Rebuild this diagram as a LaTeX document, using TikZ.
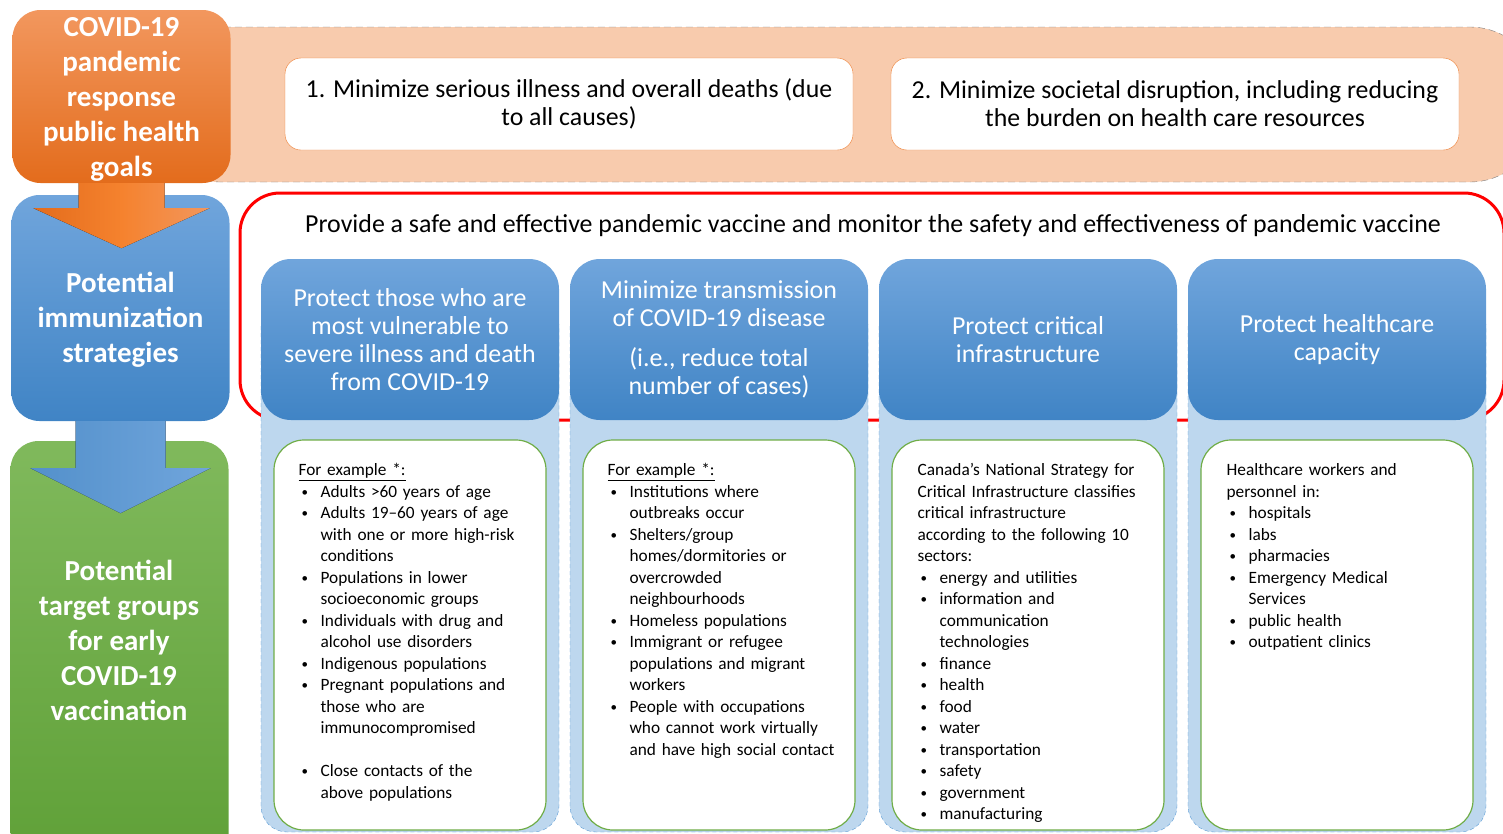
\documentclass[tikz,border=0pt]{standalone}
\usepackage{fontspec}
\setmainfont{Carlito}
\usetikzlibrary{calc}
\definecolor{orTop}{HTML}{F2975E}
\definecolor{orBot}{HTML}{E36C1C}
\definecolor{orArrow}{HTML}{F5822E}
\definecolor{blueTop}{HTML}{70A5DC}
\definecolor{blueBot}{HTML}{4084C5}
\definecolor{grnTop}{HTML}{80B95C}
\definecolor{grnBot}{HTML}{5C9E34}
\definecolor{bandfill}{HTML}{F8CBAD}
\definecolor{bandgray}{HTML}{7F7F7F}
\definecolor{goalorange}{HTML}{ED7D31}
\definecolor{colfill}{HTML}{BDD7EE}
\definecolor{colline}{HTML}{5B9BD5}
\definecolor{listgreen}{HTML}{70AD47}
\newcommand{\bul}[1]{\par\hangindent=22pt\hangafter=1\noindent
    \makebox[22pt][l]{\hspace{3pt}\raisebox{1pt}{\fontsize{13}{13}\selectfont\textbullet}}\begingroup\let\\\newline#1\endgroup}
\begin{document}
\begin{tikzpicture}[x=1pt, y=-1pt,
    lbox/.style={rounded corners=28, minimum width=218},
    ltext/.style={text=white, align=center, inner sep=0, font=\fontsize{29}{35}\selectfont\bfseries},
    goal/.style={draw=goalorange, fill=white, rounded corners=16, align=center,
        font=\fontsize{25.8}{28}\selectfont, minimum width=568, minimum height=92},
    colbg/.style={draw=colline, dash pattern=on 4pt off 3pt, fill=colfill,
        rounded corners=26, minimum width=298, minimum height=532},
    head/.style={rounded corners=30, top color=blueTop, bottom color=blueBot, text=white,
        align=center, font=\fontsize{25.9}{28}\selectfont, minimum width=298, minimum height=161},
    listbox/.style={draw=listgreen, line width=1.2, fill=white, rounded corners=30,
        minimum width=272, minimum height=390},
    listtext/.style={anchor=north west, inner sep=0, text width=252, align=left,
        font=\fontsize{17.3}{21.5}\selectfont}]
    \useasboundingbox (0,0) rectangle (1503,833);
    \clip (0,0) rectangle (1503,833);

    \draw[bandgray, dash pattern=on 7pt off 4pt, fill=bandfill, rounded corners=70]
        (150,27) rectangle (1540,182);
    \node[goal] (g1) at (569,104) {1. Minimize serious illness and overall deaths (due\\to all causes)};
    \node[goal] (g2) at (1175,104) {2. Minimize societal disruption, including reducing\\the burden on health care resources};

    \node[lbox, top color=grnTop, bottom color=grnBot, minimum height=459] (tgt) at (119.5,670.5) {};
    \node[ltext] (tgtlbl) at (119,640.5) {Potential\\target groups\\for early\\COVID-19\\vaccination};
    \node[lbox, top color=blueTop, bottom color=blueBot, minimum height=226] (strat) at (120.5,308) {};
    \node[ltext] (stratlbl) at ($(strat.center)+(0,12)$) {Potential\\immunization\\strategies};
    \node[lbox, top color=orTop, bottom color=orBot, minimum height=173] (goals) at (121.5,96.5) {};
    \node[ltext] (goalslbl) at ($(goals.center)+(0,3)$) {COVID-19\\pandemic\\response\\public health\\goals};

    \fill[left color=orBot, right color=orTop, middle color=orArrow]
        ($(goals.south)+(-43,0)$) -- ++(0,25) -- ++(-45,0) -- ($(goals.south)+(0,65)$)
        -- ($(goals.south)+(88,25)$) -- ++(-45,0) -- ($(goals.south)+(43,0)$) -- cycle;
    \fill[left color=blueBot!90!white, right color=blueTop]
        ($(strat.south)+(-45,0)$) -- ++(0,47) -- ++(-45,0) -- ($(strat.south)+(0,92)$)
        -- ($(strat.south)+(90,47)$) -- ++(-45,0) -- ($(strat.south)+(45,0)$) -- cycle;

    \node[draw=red, line width=3, rounded corners=40, minimum width=1264, minimum height=227]
        (aim) at (872,306.5) {};
    \node[font=\fontsize{25.9}{28}\selectfont] (aimlbl) at (873,226)
        {Provide a safe and effective pandemic vaccine and monitor the safety and effectiveness of pandemic vaccine};

    \foreach \x/\n in {410/1, 719/2, 1028/3, 1337/4} {
        \node[colbg] (bg\n) at (\x,566) {};
        \node[listbox] (list\n) at (\x,635) {};
    }
    \node[head] (head1) at (410,339.5) {Protect those who are\\most vulnerable to\\severe illness and death\\from COVID-19};
    \node[head] (head2) at (719,339.5) {Minimize transmission\\of COVID-19 disease\\[12pt](i.e., reduce total\\number of cases)};
    \node[head] (head3) at (1028,339.5) {Protect critical\\infrastructure};
    \node[head] (head4) at (1337,339.5) {Protect healthcare\\capacity};

    \node[listtext] (items1) at ($(list1.north west)+(25,24)$) {\underline{For example *:}
        \bul{Adults >60 years of age}
        \bul{Adults 19–60 years of age\\with one or more high-risk\\conditions}
        \bul{Populations in lower\\socioeconomic groups}
        \bul{Individuals with drug and\\alcohol use disorders}
        \bul{Indigenous populations}
        \bul{Pregnant populations and\\those who are\\immunocompromised}
        \par\vskip21.5pt
        \bul{Close contacts of the\\above populations}\par};
    \node[listtext] (items2) at ($(list2.north west)+(25,24)$) {\underline{For example *:}
        \bul{Institutions where\\outbreaks occur}
        \bul{Shelters/group\\homes/dormitories or\\overcrowded\\neighbourhoods}
        \bul{Homeless populations}
        \bul{Immigrant or refugee\\populations and migrant\\workers}
        \bul{People with occupations\\who cannot work virtually\\and have high social contact}\par};
    \node[listtext] (items3) at ($(list3.north west)+(26,24)$) {Canada’s National Strategy for\\Critical Infrastructure classifies\\critical infrastructure\\according to the following 10\\sectors:
        \bul{energy and utilities}
        \bul{information and\\communication\\technologies}
        \bul{finance}
        \bul{health}
        \bul{food}
        \bul{water}
        \bul{transportation}
        \bul{safety}
        \bul{government}
        \bul{manufacturing}\par};
    \node[listtext] (items4) at ($(list4.north west)+(26,24)$) {Healthcare workers and\\personnel in:
        \bul{hospitals}
        \bul{labs}
        \bul{pharmacies}
        \bul{Emergency Medical\\Services}
        \bul{public health}
        \bul{outpatient clinics}\par};
\end{tikzpicture}
\end{document}
